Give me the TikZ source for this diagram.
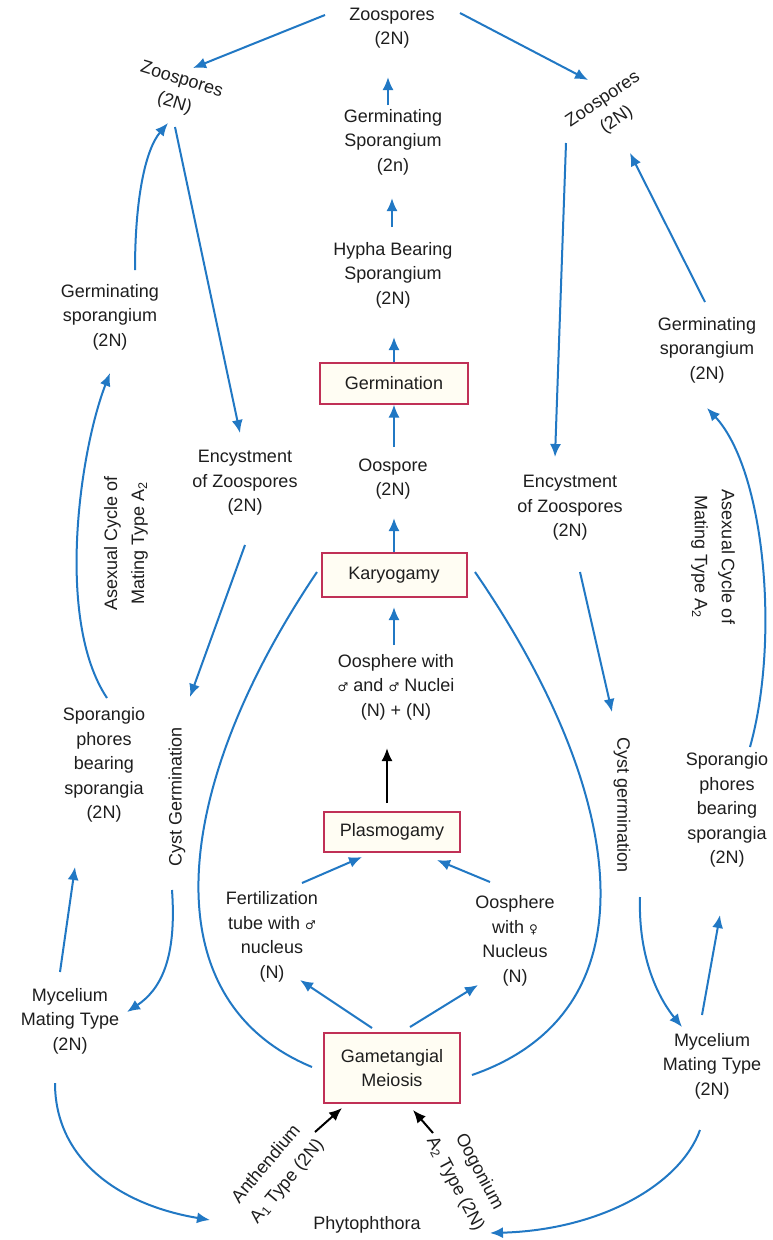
\documentclass[tikz,border=0pt]{standalone}
\usepackage{fontspec}
\setmainfont{Liberation Sans}
\newfontfamily\symf{DejaVu Sans}
\usetikzlibrary{arrows.meta}
\definecolor{arrblue}{RGB}{33,120,196}
\definecolor{boxred}{RGB}{192,48,86}
\definecolor{boxfill}{RGB}{255,253,243}
\definecolor{txt}{RGB}{30,30,30}
\newcommand{\male}{{\symf\fontsize{12}{12}\selectfont ♂}}
\newcommand{\female}{{\symf\fontsize{12}{12}\selectfont ♀}}
\tikzset{
  lbl/.style={align=center, text=txt, inner sep=1pt, font=\fontsize{18}{24.5}\selectfont},
  widelbl/.style={lbl, font=\fontsize{18}{27}\selectfont},
  stagebox/.style={lbl, draw=boxred, line width=2pt, fill=boxfill},
  arr/.style={draw=arrblue, line width=2pt, -{Latex[length=13pt,width=11pt]}},
  blackarr/.style={draw=black, line width=2pt, -{Latex[length=13pt,width=11pt]}},
  arc/.style={draw=arrblue, line width=2pt}
}
\begin{document}
\begin{tikzpicture}[x=1pt,y=-1pt]
\fill[white] (0,0) rectangle (773,1240);
\useasboundingbox (0,0) rectangle (773,1240);

% centre column
\node[lbl] (zt) at (392,28) {Zoospores\\(2N)};
\node[lbl, rotate=-17] (zl) at (178,92) {Zoospores\\(2N)};
\node[lbl, rotate=34] (zr) at (610,110) {Zoospores\\(2N)};
\node[lbl] (gs) at (393,142) {Germinating\\Sporangium\\(2n)};
\node[lbl] (hb) at (393,275) {Hypha Bearing\\Sporangium\\(2N)};
\node[stagebox, minimum width=148pt, minimum height=41pt] (germ) at (394,383) {Germination};
\node[lbl] (oo) at (393,479) {Oospore\\(2N)};
\node[stagebox, minimum width=145pt, minimum height=44pt] (kary) at (394,575) {Karyogamy};
\node[lbl] (osn) at (396,687) {Oosphere with\\\male{} and \male{} Nuclei\\(N) + (N)};
\node[stagebox, minimum width=136pt, minimum height=40pt] (plas) at (392,832) {Plasmogamy};
\node[lbl] (ft) at (272,937) {Fertilization\\tube with \male\\nucleus\\(N)};
\node[lbl] (of) at (515,941) {Oosphere\\with \female\\Nucleus\\(N)};
\node[stagebox, minimum width=136pt, minimum height=70pt] (gm) at (392,1068) {Gametangial\\Meiosis};
\node[widelbl, rotate=50] (an) at (277,1173) {Anthendium\\A\textsubscript{1} Type (2N)};
\node[widelbl, rotate=-62] (og) at (467,1178) {Oogonium\\A\textsubscript{2} Type (2N)};
\node[lbl] (ph) at (367,1225) {Phytophthora};

% left column
\node[lbl] (lgs) at (110,317) {Germinating\\sporangium\\(2N)};
\node[widelbl, rotate=90] (lac) at (126,543) {Asexual Cycle of\\Mating Type A\textsubscript{2}};
\node[lbl] (lsp) at (104,765) {Sporangio\\phores\\bearing\\sporangia\\(2N)};
\node[lbl] (lmy) at (70,1021) {Mycelium\\Mating Type\\(2N)};
\node[lbl, rotate=90] (lcg) at (177,797) {Cyst Germination};
\node[lbl] (len) at (245,483) {Encystment\\of Zoospores\\(2N)};

% right column
\node[lbl] (ren) at (570,508) {Encystment\\of Zoospores\\(2N)};
\node[lbl, rotate=-90] (rcg) at (622,805) {Cyst germination};
\node[lbl] (rmy) at (712,1066) {Mycelium\\Mating Type\\(2N)};
\node[lbl] (rsp) at (727,810) {Sporangio\\phores\\bearing\\sporangia\\(2N)};
\node[widelbl, rotate=-90] (rac) at (713,557) {Asexual Cycle of\\Mating Type A\textsubscript{2}};
\node[lbl] (rgs) at (707,350) {Germinating\\sporangium\\(2N)};

% centre connectors
\draw[arr] ([shift={(-67,-13)}]zt.center) -- ([shift={(15,-24)}]zl.center);
\draw[arr] ([shift={(68,-15)}]zt.center) -- ([shift={(-22,-30)}]zr.center);
\draw[arr] ([shift={(-5,-37)}]gs.center) -- ([shift={(-4,49)}]zt.center);
\draw[arr] ([shift={(-1,-48)}]hb.center) -- ([shift={(-1,56)}]gs.center);
\draw[arr] (germ.north) -- ([shift={(1,62)}]hb.center);
\draw[arr] ([shift={(1,-32)}]oo.center) -- (germ.south);
\draw[arr] (kary.north) -- ([shift={(1,39)}]oo.center);
\draw[arr] ([shift={(-2,-42)}]osn.center) -- ([shift={(0,32)}]kary.center);
\draw[blackarr] ([shift={(-5,-29)}]plas.center) -- ([shift={(-9,61)}]osn.center);
\draw[arr] ([shift={(30,-54)}]ft.center) -- ([shift={(-30,25)}]plas.center);
\draw[arr] ([shift={(-25,-59)}]of.center) -- ([shift={(45,28)}]plas.center);
\draw[arr] ([shift={(-20,-40)}]gm.center) -- ([shift={(28,43)}]ft.center);
\draw[arr] ([shift={(18,-41)}]gm.center) -- ([shift={(-37,44)}]of.center);
\draw[blackarr] ([shift={(38,-41)}]an.center) -- ([shift={(-50,40)}]gm.center);
\draw[blackarr] ([shift={(-34,-45)}]og.center) -- ([shift={(21,42)}]gm.center);
\draw[arc] ([shift={(-77,-3)}]kary.center) .. controls (170,790) and (150,1000) .. ([shift={(-80,-1)}]gm.center);
\draw[arc] ([shift={(81,-3)}]kary.center) .. controls (625,790) and (660,1010) .. ([shift={(80,7)}]gm.center);

% left connectors
\draw[arr] ([shift={(-3,35)}]zl.center) -- ([shift={(-5,-50)}]len.center);
\draw[arr] ([shift={(0,62)}]len.center) -- ([shift={(13,-100)}]lcg.center);
\draw[arr] ([shift={(-5,93)}]lcg.center) .. controls (177,960) and (160,990) .. ([shift={(57,-9)}]lmy.center);
\draw[arr] ([shift={(-10,-49)}]lmy.center) -- ([shift={(-29,102)}]lsp.center);
\draw[arr] ([shift={(3,-67)}]lsp.center) .. controls (55,620) and (80,450) .. ([shift={(0,56)}]lgs.center);
\draw[arr] ([shift={(25,-47)}]lgs.center) .. controls (135,200) and (145,150) .. ([shift={(-10,31)}]zl.center);
\draw[arr] ([shift={(-15,62)}]lmy.center) .. controls (55,1160) and (120,1205) .. ([shift={(-157,-5)}]ph.center);

% right connectors
\draw[arr] ([shift={(-44,33)}]zr.center) -- ([shift={(-15,-51)}]ren.center);
\draw[arr] ([shift={(10,64)}]ren.center) -- ([shift={(-10,-93)}]rcg.center);
\draw[arr] ([shift={(18,92)}]rcg.center) .. controls (638,960) and (660,1000) .. ([shift={(-30,-39)}]rmy.center);
\draw[arr] ([shift={(-10,-51)}]rmy.center) -- ([shift={(-7,105)}]rsp.center);
\draw[arr] ([shift={(23,-63)}]rsp.center) .. controls (780,640) and (765,470) .. ([shift={(0,58)}]rgs.center);
\draw[arr] ([shift={(-2,-48)}]rgs.center) -- ([shift={(20,43)}]zr.center);
\draw[arr] ([shift={(-12,64)}]rmy.center) .. controls (680,1185) and (600,1230) .. ([shift={(123,8)}]ph.center);
\end{tikzpicture}
\end{document}
